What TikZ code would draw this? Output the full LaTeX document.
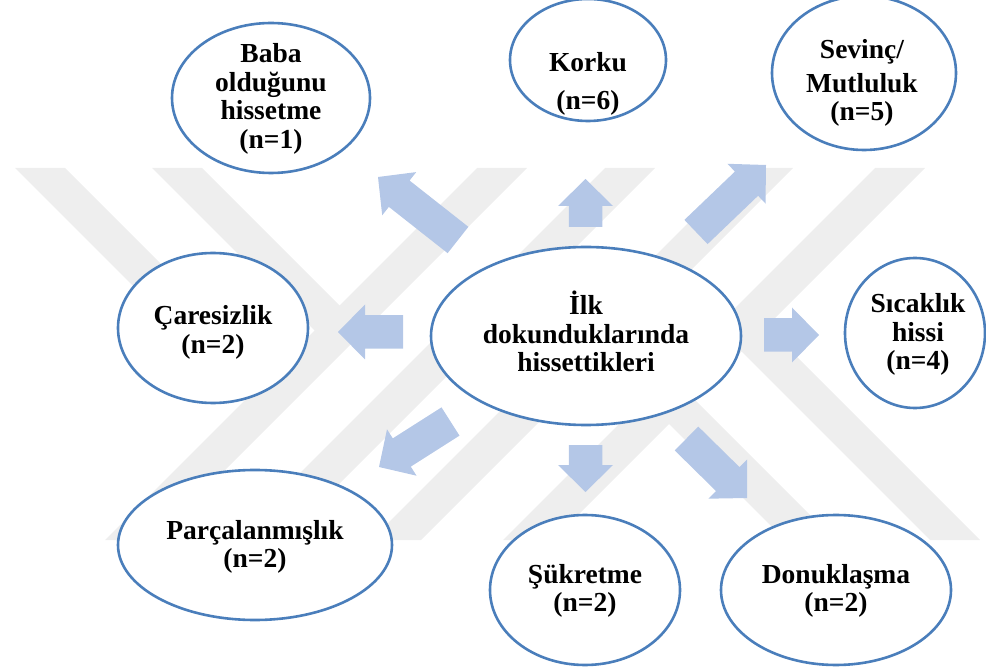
\documentclass[tikz,border=0pt]{standalone}
\usepackage{fontspec}
\setmainfont{Liberation Serif}
\usetikzlibrary{shapes.geometric,calc}
\definecolor{ringblue}{RGB}{74,126,187}
\definecolor{arrowblue}{RGB}{180,199,231}
\definecolor{markgrey}{RGB}{238,238,238}
\begin{document}
\begin{tikzpicture}[x=1pt,y=-1pt,
  bubble/.style={ellipse, draw=ringblue, line width=2.6pt, fill=white, inner sep=0pt},
  caption/.style={text width=320pt, align=center, anchor=base, inner sep=0pt,
    font=\fontsize{27.5}{28.5}\selectfont\bfseries},
  band/.style={fill=markgrey},
  blockfill/.style={fill=arrowblue}]
\useasboundingbox (0,0) rectangle (986,668);

% background mark: slanted grey bands
\foreach \a in {477,605,743,875}
  \fill[band] (\a,168) -- ++(50,0) -- ++(-372,372) -- ++(-50,0) -- cycle;
\fill[band] (15,168) -- (65,168) -- (283.5,386.5) -- (258.5,411.5) -- cycle;
\fill[band] (152,168) -- (202,168) -- (352,318) -- (327,343) -- cycle;
\fill[band] (785,540) -- (835,540) -- (681.5,386.5) -- (656.5,411.5) -- cycle;
\fill[band] (930,540) -- (980,540) -- (754,314) -- (729,339) -- cycle;

% ellipses
\node[bubble, minimum width=198pt, minimum height=150pt] (baba)   at (271,98)  {};
\node[bubble, minimum width=156pt, minimum height=122pt] (korku)  at (588,60)  {};
\node[bubble, minimum width=184pt, minimum height=154pt] (sevinc) at (864,73)  {};
\node[bubble, minimum width=310pt, minimum height=178pt] (center) at (586,336) {};
\node[bubble, minimum width=190pt, minimum height=150pt] (care)   at (213,328) {};
\node[bubble, minimum width=140pt, minimum height=150pt] (sicak)  at (915,333) {};
\node[bubble, minimum width=274pt, minimum height=150pt] (parc)   at (255,545) {};
\node[bubble, minimum width=190pt, minimum height=150pt] (sukr)   at (585,590) {};
\node[bubble, minimum width=230pt, minimum height=150pt] (donuk)  at (836,590) {};

% labels (positioned by first baseline)
\node[caption] (baba-text)   at (271,63)  {Baba\\olduğunu\\hissetme\\(n=1)};
\node[caption] (korku-text)  at (588,72)  {Korku\\[9.5pt](n=6)};
\node[caption] (sevinc-text) at (862,59)  {Sevinç/\\[5pt]Mutluluk\\(n=5)};
\node[caption] (center-text) at (586,315) {İlk\\dokunduklarında\\hissettikleri};
\node[caption] (care-text)   at (213,325) {Çaresizlik\\(n=2)};
\node[caption] (sicak-text)  at (918,313) {Sıcaklık\\hissi\\(n=4)};
\node[caption] (parc-text)   at (255,539) {Parçalanmışlık\\(n=2)};
\node[caption] (sukr-text)   at (585,583) {Şükretme\\(n=2)};
\node[caption] (donuk-text)  at (836,583) {Donuklaşma\\(n=2)};

% block arrows: tail centre and tip
\coordinate (baba-tail)   at (458,240);   \coordinate (baba-tip)   at (378,177);
\coordinate (korku-tail)  at (585.5,227); \coordinate (korku-tip)  at (585.5,179);
\coordinate (sevinc-tail) at (696,232);   \coordinate (sevinc-tip) at (766,165);
\coordinate (sicak-tail)  at (764,335);   \coordinate (sicak-tip)  at (819,335);
\coordinate (care-tail)   at (403,332);   \coordinate (care-tip)   at (338,332);
\coordinate (parc-tail)   at (450.5,421.5); \coordinate (parc-tip) at (379,467);
\coordinate (sukr-tail)   at (585.5,445); \coordinate (sukr-tip)   at (585.5,492);
\coordinate (donuk-tail)  at (686.5,438.5); \coordinate (donuk-tip) at (747,498);

\foreach \n in {baba,korku,sevinc,sicak,care,parc,sukr,donuk}{
  \coordinate (\n-base) at ($(\n-tip)!27pt!(\n-tail)$);
  \fill[blockfill]
    ($(\n-tail)!16.75pt!90:(\n-tip)$) --
    ($(\n-base)!16.75pt!90:(\n-tip)$) --
    ($(\n-base)!27.5pt!90:(\n-tip)$) --
    (\n-tip) --
    ($(\n-base)!27.5pt!-90:(\n-tip)$) --
    ($(\n-base)!16.75pt!-90:(\n-tip)$) --
    ($(\n-tail)!16.75pt!-90:(\n-tip)$) -- cycle;
}
\end{tikzpicture}
\end{document}
